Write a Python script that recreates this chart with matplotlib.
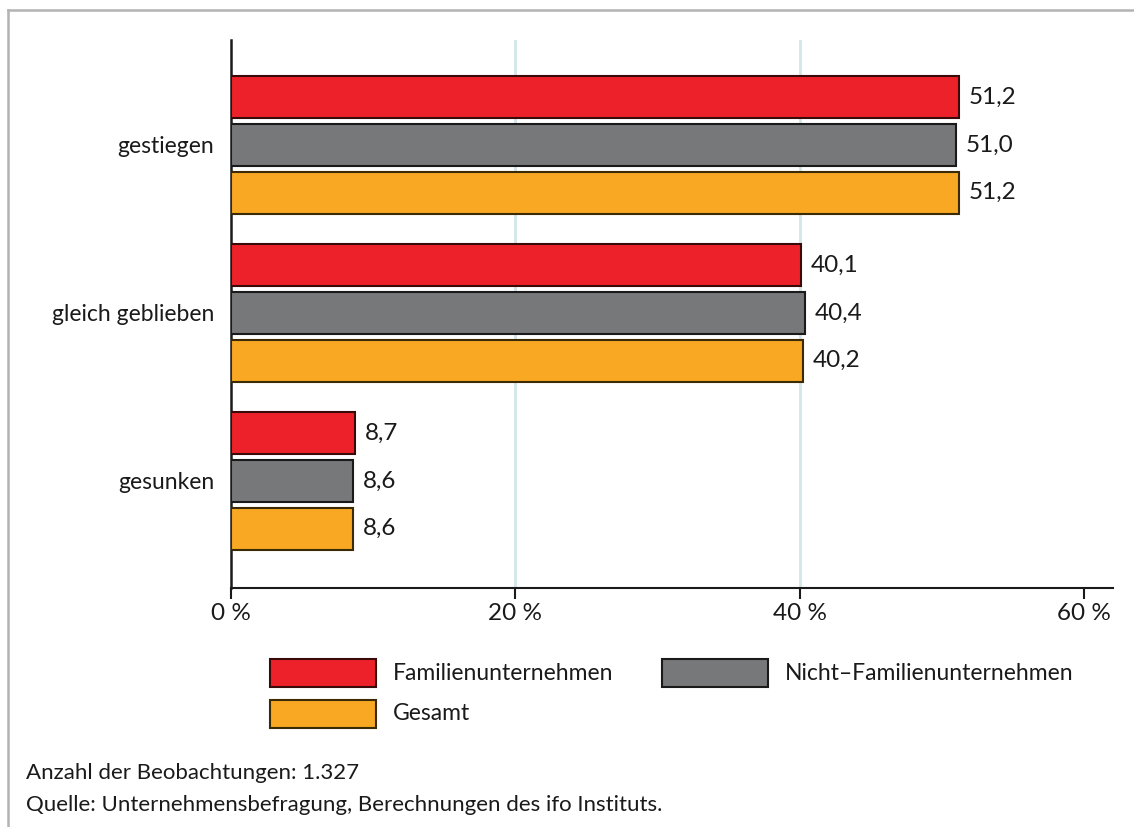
import matplotlib
matplotlib.use("Agg")
import matplotlib.pyplot as plt
from matplotlib.lines import Line2D
from matplotlib.patches import Rectangle

categories = ["gestiegen", "gleich geblieben", "gesunken"]
series_names = ["Familienunternehmen", "Nicht\u2013Familienunternehmen", "Gesamt"]
familien = [51.2, 40.1, 8.7]
nicht_familien = [51.0, 40.4, 8.6]
gesamt = [51.2, 40.2, 8.6]
xticks = [0, 20, 40, 60]
xtick_labels = ["0 %", "20 %", "40 %", "60 %"]
footnotes = ["Anzahl der Beobachtungen: 1.327",
             "Quelle: Unternehmensbefragung, Berechnungen des ifo Instituts."]

colors = ["#ED2129", "#767879", "#F8A823"]
edges = ["#3a0a0a", "#1a1a1a", "#3a2a05"]

plt.rcParams['font.family'] = ['Lato', 'DejaVu Sans']
FS_NUM = 17.5
FS_TXT = 16.5
FS_FOOT = 16

W, H = 1134, 827
fig = plt.figure(figsize=(W/100, H/100), dpi=100)

# frame
fig.add_artist(Line2D([8/W, 8/W], [0, 1 - 10/H], transform=fig.transFigure, color="#b3b3b3", lw=1.8))
fig.add_artist(Line2D([8/W, 1], [1 - 10/H, 1 - 10/H], transform=fig.transFigure, color="#b3b3b3", lw=1.8))

ax_left, ax_right = 231, 1113
ax_top, ax_bot = 40, 588
ax = fig.add_axes([ax_left/W, 1 - ax_bot/H, (ax_right-ax_left)/W, (ax_bot-ax_top)/H])

xmax = 60 * (ax_right - ax_left) / (1084 - 231)
ax.set_xlim(0, xmax)
ax.set_ylim(2.637, -0.625)

bar_h = 0.25
step = 0.283
for i, (vals, c, e) in enumerate(zip([familien, nicht_familien, gesamt], colors, edges)):
    ys = [g + (i - 1) * step for g in range(len(categories))]
    ax.barh(ys, vals, height=bar_h, color=c, edgecolor=e, linewidth=1.5, zorder=3)
    for y, v in zip(ys, vals):
        ax.annotate(f"{v:.1f}".replace(".", ","), (v, y), xytext=(7, 0),
                    textcoords="offset points", va="center", ha="left", fontsize=FS_NUM, color="#1a1a1a")

for gx in [20, 40]:
    ax.axvline(gx, color="#d3e6e8", lw=2, zorder=1)

ax.set_yticks(range(len(categories)))
ax.set_yticklabels(categories, fontsize=FS_TXT, color="#1a1a1a")
ax.tick_params(axis="y", length=0, pad=12)
ax.set_xticks(xticks)
ax.set_xticklabels(xtick_labels, fontsize=FS_NUM, color="#1a1a1a")
ax.tick_params(axis="x", length=8, width=1.5, direction="out", pad=3, color="#1a1a1a")

for s in ["top", "right"]:
    ax.spines[s].set_visible(False)
ax.spines["left"].set_linewidth(1.8)
ax.spines["bottom"].set_linewidth(1.5)
ax.spines["left"].set_color("#1a1a1a")
ax.spines["bottom"].set_color("#1a1a1a")

# legend drawn manually as patches
leg = [(270, 659, 0), (662, 659, 1), (270, 700, 2)]
for x, y, k in leg:
    fig.add_artist(Rectangle((x/W, 1 - (y+28)/H), 106/W, 28/H, transform=fig.transFigure,
                             facecolor=colors[k], edgecolor=edges[k], lw=1.5))
    fig.text((x + 123)/W, 1 - (y + 14)/H, series_names[k], fontsize=FS_TXT, va="center", ha="left", color="#1a1a1a")

fig.text(26/W, 1 - 773/H, footnotes[0], fontsize=FS_FOOT, va="center", ha="left", color="#1a1a1a")
fig.text(26/W, 1 - 805/H, footnotes[1], fontsize=FS_FOOT, va="center", ha="left", color="#1a1a1a")

fig.savefig("out.png", dpi=100)
